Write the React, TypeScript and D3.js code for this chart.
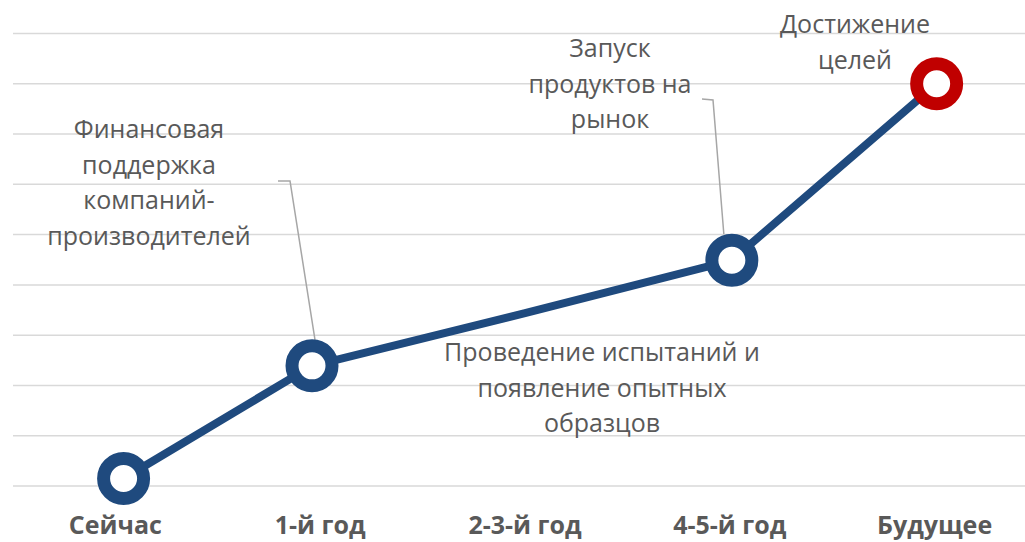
import React from 'react';
import * as d3 from 'd3';

// categories along the bottom axis
const categories = ['Сейчас', '1-й год', '2-3-й год', '4-5-й год', 'Будущее'];
// where each point sits, in category units (the markers are slightly off the label centres)
const pointPos = [0.04, 0.96, 2, 3.01, 4.01];
// series values (0..9)
const values = [0.15, 2.39, 3.44, 4.49, 8.0];
// which points get a ring marker
const markers = [true, true, false, true, true];
const markerColors = ['#1f4a7e', '#1f4a7e', '#1f4a7e', '#1f4a7e', '#c00000'];

const annotations = [
  { point: 1, lines: ['Финансовая', 'поддержка', 'компаний-', 'производителей'] },
  { point: 2, lines: ['Проведение испытаний и', 'появление опытных', 'образцов'] },
  { point: 3, lines: ['Запуск', 'продуктов на', 'рынок'] },
  { point: 4, lines: ['Достижение', 'целей'] },
];

const W = 1025;
const H = 542;
const FONT = "'Open Sans', 'Noto Sans', sans-serif";
const GREY_TEXT = '#595959';

export default function App() {
  const x = d3.scaleLinear().domain([-0.5, 4.5]).range([13, 1037]);
  const y = d3.scaleLinear().domain([0, 9]).range([486, 33.5]);

  const pts = values.map((v, i) => ({ x: x(pointPos[i]), y: y(v), i }));
  const line = d3.line<{ x: number; y: number }>().x(d => d.x).y(d => d.y);

  // label layout (pixel anchors for text blocks, baseline of first line)
  const labelLayout: Record<number, { cx: number; top: number; leader?: [number, number][] }> = {
    1: { cx: 149, top: 138 },
    2: { cx: 602, top: 361 },
    3: { cx: 610, top: 57 },
    4: { cx: 855, top: 33 },
  };
  const lh = 35.5;

  const p1 = pts[1];
  const p3 = pts[3];
  labelLayout[1].leader = [[278, 181], [290, 181], [p1.x + 3, p1.y - 26]];
  labelLayout[3].leader = [[702, 99], [713, 100], [p3.x - 8, p3.y - 26]];

  return (
    <svg width={W} height={H} style={{ position: 'absolute', left: 0, top: 0, background: '#fff' }}>
      {y.ticks(9).map(t => (
        <line key={t} x1={13} x2={1037} y1={y(t)} y2={y(t)} stroke="#d9d9d9" strokeWidth={1.5} />
      ))}

      {categories.map((c, i) => (
        <text
          key={c}
          x={x(i)}
          y={534}
          textAnchor="middle"
          fontFamily={FONT}
          fontWeight={700}
          fontSize={25}
          fill={GREY_TEXT}
        >
          {c}
        </text>
      ))}

      {annotations.map(a => {
        const l = labelLayout[a.point];
        return (
          <g key={a.point}>
            {l.leader && (
              <polyline
                points={l.leader.map(p => p.join(',')).join(' ')}
                fill="none"
                stroke="#a6a6a6"
                strokeWidth={1.5}
              />
            )}
            {a.lines.map((s, k) => (
              <text
                key={k}
                x={l.cx}
                y={l.top + k * lh}
                textAnchor="middle"
                fontFamily={FONT}
                fontSize={25}
                fill={GREY_TEXT}
              >
                {s}
              </text>
            ))}
          </g>
        );
      })}

      <path d={line(pts) || ''} fill="none" stroke="#1f4a7e" strokeWidth={8} strokeLinejoin="round" />

      {pts.filter(p => markers[p.i]).map(p => (
        <circle
          key={p.i}
          cx={p.x}
          cy={p.y}
          r={20}
          fill="#fff"
          stroke={markerColors[p.i]}
          strokeWidth={13}
        />
      ))}
    </svg>
  );
}
